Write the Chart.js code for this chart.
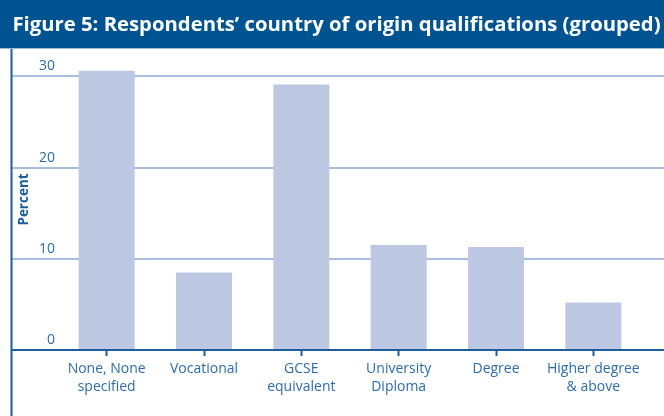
<!DOCTYPE html>
<html>
<head>
<meta charset="utf-8">
<script src="https://cdn.jsdelivr.net/npm/chart.js@4/dist/chart.umd.min.js"></script>
<style>
  html, body { margin: 0; padding: 0; background: #ffffff; }
  #wrap { width: 664px; height: 416px; position: relative; }
</style>
</head>
<body>
<div id="wrap"><canvas id="c" width="664" height="416"></canvas></div>
<script>
const titleText = "Figure 5: Respondents\u2019 country of origin qualifications (grouped)";
const categories = [["None, None", "specified"], "Vocational", ["GCSE", "equivalent"], ["University", "Diploma"], "Degree", ["Higher degree", "& above"]];
const percentValues = [30.6, 8.5, 29.1, 11.5, 11.3, 5.2];
const yTickValues = [0, 10, 20, 30];
const yAxisTitle = "Percent";

const DARK = "#1c5e9c";
const TEXT = "#2e6ca8";
const GRID = "#aabdde";
const BAR = "#bdc9e2";
const HEADER = "#005391";

const framePlugin = {
  id: "frame",
  beforeDraw(chart) {
    const ctx = chart.ctx;
    ctx.save();
    ctx.fillStyle = "#ffffff";
    ctx.fillRect(0, 0, chart.width, chart.height);
    ctx.fillStyle = HEADER;
    ctx.fillRect(0, 0, chart.width, 48);
    ctx.fillStyle = "#9fbadc";
    ctx.fillRect(0, 48, chart.width, 1);
    ctx.restore();
  },
  beforeDatasetsDraw(chart) {
    const ctx = chart.ctx;
    const y = chart.scales.y;
    ctx.save();
    ctx.strokeStyle = GRID;
    ctx.lineWidth = 2;
    yTickValues.forEach(v => {
      if (v === 0) return;
      const py = Math.round(y.getPixelForValue(v));
      ctx.beginPath();
      ctx.moveTo(12, py);
      ctx.lineTo(chart.width, py);
      ctx.stroke();
    });
    ctx.restore();
  },
  afterDatasetsDraw(chart) {
    const ctx = chart.ctx;
    const y = chart.scales.y;
    const py = Math.round(y.getPixelForValue(0));
    ctx.save();
    ctx.strokeStyle = DARK;
    ctx.lineWidth = 2;
    ctx.beginPath();
    ctx.moveTo(11, py);
    ctx.lineTo(chart.width, py);
    ctx.stroke();
    ctx.beginPath();
    ctx.moveTo(11.5, 49);
    ctx.lineTo(11.5, chart.height);
    ctx.stroke();
    ctx.restore();
  }
};

new Chart(document.getElementById("c"), {
  type: "bar",
  data: {
    labels: categories,
    datasets: [{
      data: percentValues,
      backgroundColor: BAR,
      borderWidth: 0,
      barPercentage: 0.576,
      categoryPercentage: 1.0
    }]
  },
  options: {
    responsive: false,
    animation: false,
    events: [],
    layout: { padding: { left: 9, right: 0, top: 0, bottom: 0 } },
    plugins: {
      legend: { display: false },
      tooltip: { enabled: false },
      title: {
        display: true,
        text: titleText,
        color: "#ffffff",
        align: "center",
        font: { family: "Open Sans", size: 20.3, weight: "bold", lineHeight: 1.2 },
        padding: { top: 13, bottom: 11.6 }
      }
    },
    scales: {
      x: {
        type: "category",
        grid: {
          display: true,
          drawOnChartArea: false,
          offset: false,
          tickLength: 6,
          tickWidth: 2,
          tickColor: DARK,
          color: DARK
        },
        border: { display: false },
        ticks: {
          color: TEXT,
          padding: 4,
          maxRotation: 0,
          autoSkip: false,
          font: { family: "Open Sans", size: 14, lineHeight: 1.3 }
        },
        afterFit(s) { s.height = 66; }
      },
      y: {
        min: 0,
        max: 33,
        grid: { display: false, drawTicks: false },
        border: { display: false },
        ticks: {
          stepSize: 10,
          includeBounds: false,
          color: TEXT,
          padding: 3,
          labelOffset: -10,
          font: { family: "Open Sans", size: 14 }
        },
        title: {
          display: true,
          text: yAxisTitle,
          color: DARK,
          font: { family: "Open Sans", size: 13.5, weight: "bold" },
          padding: { top: 7, bottom: 0 }
        },
        afterFit(s) { s.width = 49; }
      },
      rightSpace: {
        type: "linear",
        position: "right",
        display: true,
        grid: { display: false, drawTicks: false },
        border: { display: false },
        ticks: { display: false },
        afterFit(s) { s.width = 22; }
      }
    }
  },
  plugins: [framePlugin]
});
</script>
</body>
</html>
